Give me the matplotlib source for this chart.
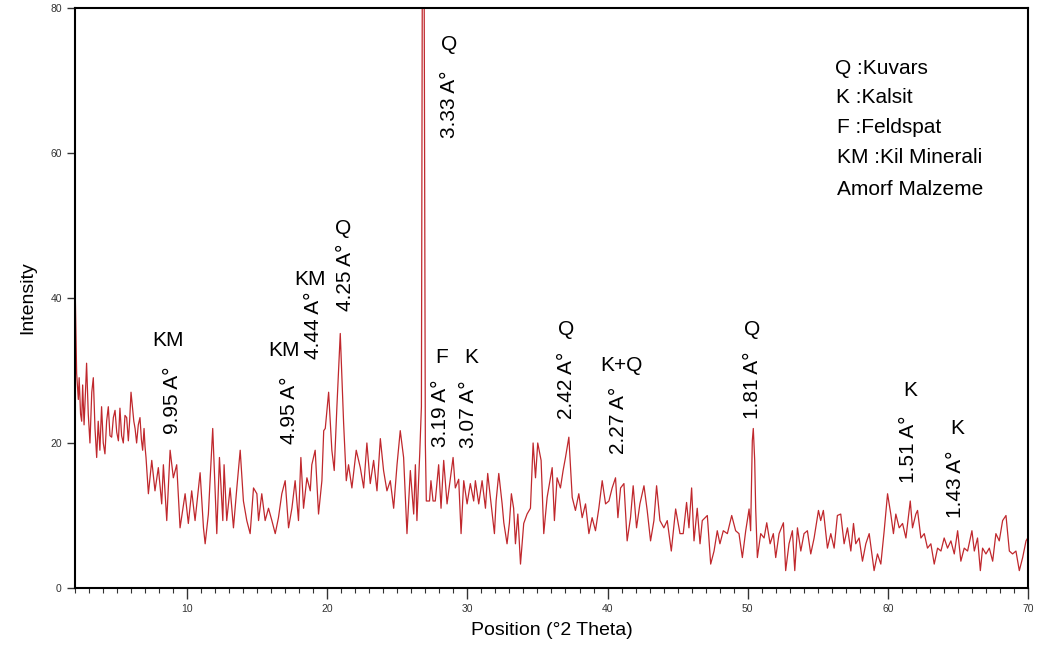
"""XRD pattern of the sample, with Q/K/F/KM peak labels."""
import matplotlib
matplotlib.use("Agg")
import matplotlib.pyplot as plt
from matplotlib.ticker import MultipleLocator

LINE_RED = "#c0282d"

plt.rcParams.update({
    "font.family": ["Liberation Sans", "DejaVu Sans"],
})

# ------------------------------------------------------------
# Data (2-theta in degrees, intensity counts)
# ------------------------------------------------------------
two_theta = [
    2.0, 2.06, 2.12, 2.24, 2.3, 2.4, 2.48, 2.55, 2.65, 2.75, 2.83, 2.95, 3.07, 3.2, 3.31, 3.43, 3.55, 3.66,
    3.78, 3.9, 4.02, 4.14, 4.26, 4.38, 4.5, 4.62, 4.74, 4.86, 4.98, 5.1, 5.21, 5.33, 5.45, 5.57, 5.69, 5.81,
    5.9, 6.0, 6.1, 6.2, 6.29, 6.4, 6.52, 6.64, 6.74, 6.83, 6.93, 7.0, 7.07, 7.24, 7.48, 7.71, 7.95, 8.19,
    8.31, 8.55, 8.79, 9.02, 9.26, 9.5, 9.86, 10.09, 10.33, 10.57, 10.93, 11.17, 11.29, 11.52, 11.83, 12.12,
    12.31, 12.55, 12.64, 12.83, 13.07, 13.31, 13.55,
    13.79, 14.02, 14.26, 14.5, 14.74, 14.98, 15.1, 15.33, 15.57, 15.81, 16.05, 16.29, 16.52, 16.76, 17.0,
    17.24, 17.48, 17.71, 17.95, 18.12, 18.31, 18.55, 18.79, 18.9, 19.14, 19.38, 19.62, 19.75, 19.86, 20.1,
    20.33, 20.5, 20.69, 20.93, 21.17, 21.36, 21.52, 21.76, 22.07, 22.36, 22.6, 22.83, 23.07, 23.31, 23.55,
    23.79, 24.02, 24.26, 24.5, 24.74, 24.98, 25.21, 25.45, 25.69, 25.93, 26.17, 26.29, 26.4, 26.6,
    26.72, 26.78, 26.92, 27.0, 27.07,
    27.3, 27.4, 27.55, 27.71, 27.95, 28.12, 28.31, 28.55, 28.79, 28.98, 29.14, 29.38, 29.55, 29.74, 29.98,
    30.21, 30.45, 30.57, 30.81, 31.05, 31.29, 31.45, 31.64, 31.93, 32.05, 32.24, 32.48, 32.6, 32.83, 33.0,
    33.14, 33.3, 33.43, 33.6, 33.79, 33.9, 34.02, 34.26, 34.5, 34.69, 34.86, 35.02, 35.26, 35.45, 35.69,
    36.05, 36.21, 36.4, 36.64, 36.83, 37.0, 37.24, 37.48, 37.71, 37.95, 38.19, 38.43, 38.67, 38.9, 39.14,
    39.38, 39.62, 39.86, 40.1, 40.33, 40.57, 40.74, 40.93, 41.17, 41.4,
    41.64, 41.83, 42.07, 42.31, 42.6, 42.83, 43.07, 43.31, 43.5, 43.74, 44.02, 44.26, 44.55, 44.86, 45.17,
    45.4, 45.64, 45.81, 46.0, 46.17, 46.4, 46.6, 46.76, 47.12, 47.36, 47.6, 47.83, 48.02, 48.26, 48.55,
    48.86, 49.14, 49.38, 49.62, 49.86, 50.1, 50.21, 50.33, 50.4, 50.5, 50.57, 50.69, 50.93, 51.17, 51.36,
    51.6, 51.83, 52.0, 52.24, 52.55, 52.71, 52.95, 53.19, 53.36, 53.55, 53.79, 54.02, 54.26, 54.5, 54.74,
    55.05, 55.21, 55.4, 55.69, 55.93, 56.17, 56.4,
    56.64, 56.88, 57.12, 57.36, 57.55, 57.71, 57.95, 58.19, 58.43, 58.67, 59.02, 59.26, 59.5, 59.74, 59.98,
    60.21, 60.4, 60.57, 60.81, 61.05, 61.29, 61.6, 61.76, 62.0, 62.12, 62.36, 62.6, 62.83, 63.07, 63.31,
    63.55, 63.79, 64.02, 64.26, 64.5, 64.74, 64.98, 65.21, 65.45, 65.69, 66.0, 66.17, 66.4, 66.6, 66.76,
    67.0, 67.24, 67.48, 67.71, 67.95, 68.19, 68.43, 68.67, 68.9, 69.14, 69.38, 69.62, 69.86, 69.98,
]
intensity = [
    43, 36, 29.6, 26, 29, 24, 23, 28, 22.5, 27, 31, 24, 20, 27, 29, 22, 18, 23,
    19, 25, 20, 18.5, 23, 25, 21, 20.8, 23.5, 24.5, 21.5, 20.3, 24.8, 21, 20, 23.8, 23.5, 20.3,
    23, 27, 25, 23, 22, 20, 22.5, 23.5, 20.5, 19, 22, 19.5, 18, 13, 17.6, 13.4, 16.6, 11.6,
    17, 9.3, 19, 15.2, 17, 8.3, 13, 8.9, 13.4, 9.3, 15.9, 8.3, 6.1, 10.2, 22, 7.5,
    18, 9.3, 17, 9.3, 13.8, 8.3, 13.8,
    19, 12, 9.3, 7.5, 13.8, 13, 9.3, 13, 9.3, 11, 9.3, 7.5, 9.7, 13, 14.8,
    8.3, 11, 14.8, 9.3, 18, 11, 15.2, 13.4, 17, 19, 10.2, 14.8, 21.7, 22, 27,
    19, 16.2, 25, 35.1, 22.7, 14.8, 17, 13.8, 19, 16.6, 13.8, 20, 14.4, 17.6, 13.4,
    20.6, 16.2, 13.4, 14.8, 11, 17, 21.7, 18, 7.5, 16.2, 10.2, 17, 9.3, 18.5,
    25, 80.5, 80.5, 20, 12,
    12, 14.8, 12, 12, 17, 11, 17.6, 11.6, 15.2, 18, 13.8, 15, 7.5, 14.8, 11.6,
    14.4, 12, 14.8, 11.6, 14.8, 11, 15.8, 12.5, 7.5, 12, 15.8, 11.6, 9, 6.1, 9,
    13, 11, 6.1, 10.2, 3.3, 6, 8.9, 10.2, 11, 20, 15.2, 20, 17.6, 7.5, 12.5,
    16.6, 9.3, 15.2, 13.8, 16.2, 18, 20.8, 12.5, 10.7, 13, 9.7, 11.6, 7.5, 9.7, 7.9,
    11, 14.8, 11.6, 12, 13.8, 15.2, 9.7, 13.8, 14.4, 6.5,
    9.7, 14.1, 8.3, 11.6, 14.1, 10.7, 6.5, 9.3, 14.1, 9.3, 8.3, 9.3, 5.1, 10.9, 7.5,
    7.5, 11.8, 8.3, 13.8, 6.5, 11, 6.1, 9.3, 10, 3.3, 5.1, 7.9, 6.1, 7.9, 7.5,
    10, 7.9, 7.5, 4.2, 7.9, 10.9, 7.9, 20.3, 22, 17.6, 11, 4.2, 7.5, 6.9, 9,
    6.1, 7.5, 4.2, 7.5, 9, 2.4, 6.1, 7.9, 2.4, 8.3, 5.1, 7.5, 7.9, 4.7, 6.9,
    10.7, 9.3, 10.7, 5.5, 7.5, 5.5, 10,
    10.2, 6.1, 8.3, 5.1, 8.9, 6.1, 6.9, 3.7, 6.1, 7.5, 2.4, 4.7, 3.3, 7.9, 13,
    10.2, 7.5, 10.2, 8.3, 8.9, 6.9, 12, 8.3, 10.2, 10.7, 6.9, 7.5, 5.5, 6.1, 3.3,
    5.5, 5.1, 6.9, 5.5, 6.5, 4.7, 7.9, 3.7, 5.5, 5.1, 7.9, 5.1, 6.9, 2.4, 5.5,
    4.7, 5.5, 3.7, 7.5, 6.5, 9.3, 10, 5.1, 4.7, 5.1, 2.4, 4.2, 6.5, 6.9,
]

# Peak labels: phase letter and d-spacing, placed at (2-theta, intensity)
phase_labels = ["KM", "KM", "KM", "Q", "Q", "F", "K", "Q", "K+Q", "Q", "K", "K"]
phase_pos = [(8.64, 34.2), (16.93, 32.8), (18.79, 42.6), (21.14, 49.6), (28.71, 75.0),
             (28.14, 31.8), (30.29, 31.8), (37.07, 35.6), (41.0, 30.7), (50.29, 35.6),
             (61.57, 27.3), (64.93, 22.0)]
d_labels = ["9.95 A°", "4.95 A°", "4.44 A°", "4.25 A°", "3.33 A°", "3.19 A°", "3.07 A°",
            "2.42 A°", "2.27 A°", "1.81 A°", "1.51 A°", "1.43 A°"]
d_pos = [(8.93, 25.9), (17.29, 24.5), (19.0, 36.2), (21.3, 42.9), (28.71, 66.7),
         (28.07, 24.1), (30.07, 24.0), (37.07, 28.0), (40.79, 23.1), (50.36, 28.0),
         (61.5, 19.2), (64.86, 14.3)]

key_lines = ["Q :Kuvars", "K :Kalsit", "F :Feldspat", "KM :Kil Minerali", "Amorf Malzeme"]
key_x = [56.2, 56.3, 56.4, 56.4, 56.4]
key_y = [71.6, 67.7, 63.5, 59.4, 54.9]


def main():
    fig = plt.figure(figsize=(10.41, 6.57), dpi=100)
    ax = fig.add_axes([0.072, 0.105, 0.9155, 0.883])

    ax.plot(two_theta, intensity, color=LINE_RED, lw=0.9)
    ax.set_xlim(2, 70)
    ax.set_ylim(0, 80)

    ax.xaxis.set_major_locator(MultipleLocator(10))
    ax.xaxis.set_minor_locator(MultipleLocator(1))
    ax.yaxis.set_major_locator(MultipleLocator(20))
    ax.tick_params(axis="x", which="major", length=8, width=1, labelsize=7.5, colors="#333333")
    ax.tick_params(axis="x", which="minor", length=3.5, width=0.8, colors="#333333")
    ax.tick_params(axis="y", which="major", length=6, width=1, labelsize=7.5, colors="#333333")
    for sp in ax.spines.values():
        sp.set_linewidth(1.5)

    ax.set_xlabel("Position (°2 Theta)", fontsize=14, labelpad=6)
    ax.set_ylabel("Intensity", fontsize=14, labelpad=10)

    for txt, (x, y) in zip(phase_labels, phase_pos):
        ax.text(x, y, txt, fontsize=15, ha="center", va="center")
    for txt, (x, y) in zip(d_labels, d_pos):
        ax.text(x, y, txt, fontsize=15, ha="center", va="center", rotation=90)
    for txt, x, y in zip(key_lines, key_x, key_y):
        ax.text(x, y, txt, fontsize=15, ha="left", va="center")

    fig.savefig("out.png", dpi=100)
    plt.close(fig)


if __name__ == "__main__":
    main()
